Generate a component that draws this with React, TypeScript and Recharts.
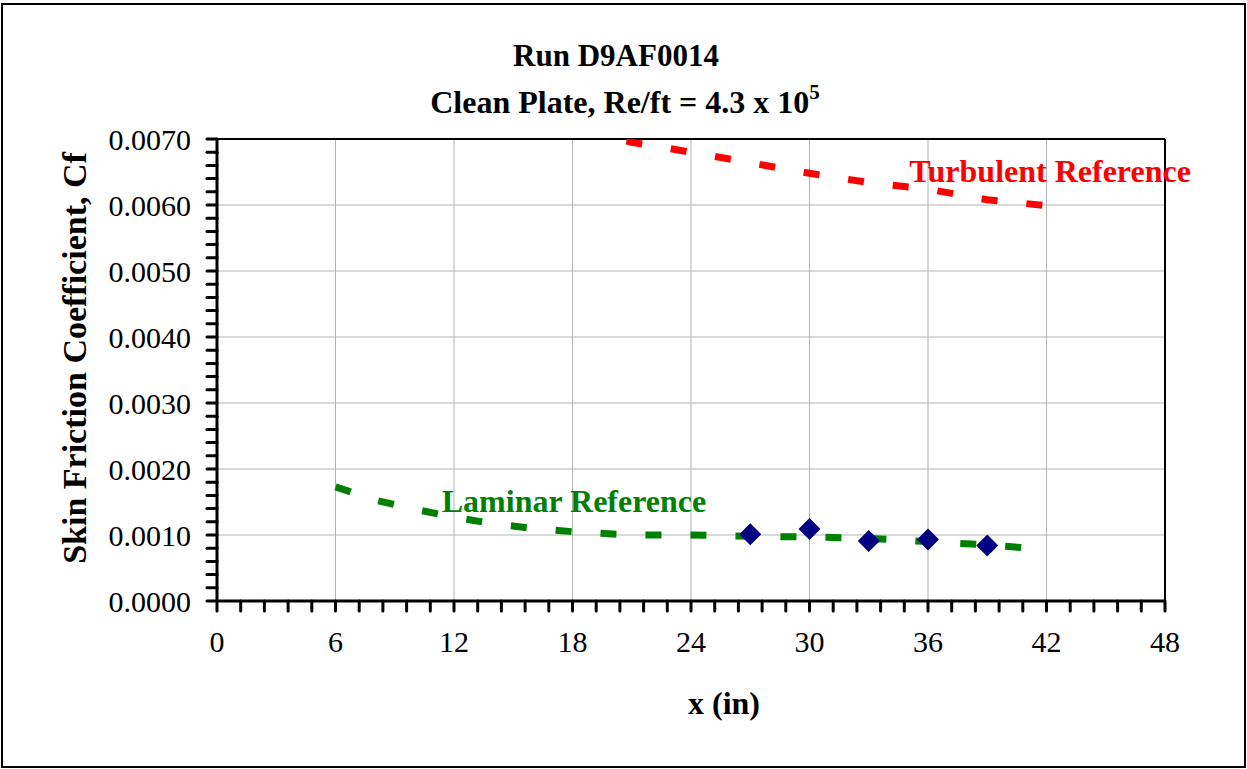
import React from 'react';
import { ComposedChart, Line, Scatter, XAxis, YAxis, ReferenceLine } from 'recharts';

// measured skin friction points
const measX = [27, 30, 33, 36, 39];
const measCf = [0.00101, 0.00109, 0.00091, 0.00093, 0.00084];

// reference curves
const lamX = [6, 8, 10, 12, 14, 16, 18, 21, 24, 27, 30, 33, 36, 39, 42];
const lamCf = [0.00173, 0.00153, 0.00139, 0.00127, 0.00117, 0.0011, 0.00105, 0.001, 0.001, 0.00098, 0.00097, 0.00095, 0.0009, 0.00085, 0.00078];
const turbX = [12, 15, 18, 19, 21, 24, 27, 30, 33, 36, 39, 42];
const turbCf = [0.00775, 0.00745, 0.0072, 0.00712, 0.00695, 0.0068, 0.00664, 0.00648, 0.00634, 0.00624, 0.00608, 0.00599];

// axes
const xMajor = [0, 6, 12, 18, 24, 30, 36, 42, 48];
const yMajor = [0, 0.001, 0.002, 0.003, 0.004, 0.005, 0.006, 0.007];
const xTicks = Array.from({ length: 41 }, (_, i) => +(i * 1.2).toFixed(1));
const yTicks = Array.from({ length: 36 }, (_, i) => +(i * 0.0002).toFixed(4));

const measured = measX.map((x, i) => ({ x, cf: measCf[i] }));
const laminar = lamX.map((x, i) => ({ x, cf: lamCf[i] }));
const turbulent = turbX.map((x, i) => ({ x, cf: turbCf[i] }));

const serif = '"Liberation Serif", "Times New Roman", serif';
const tickStyle = { fill: '#000', fontSize: 30, fontFamily: serif };

const Diamond = (props: any) => {
  const { cx, cy } = props;
  const r = 11;
  return (
    <polygon
      points={`${cx},${cy - r} ${cx + r},${cy} ${cx},${cy + r} ${cx - r},${cy}`}
      fill="#000080"
    />
  );
};

const isMajor = (v: number, list: number[]) => list.some((m) => Math.abs(m - v) < 1e-9);

export default function App() {
  return (
    <div style={{ position: 'absolute', left: 0, top: 0, width: 1247, height: 769, background: '#fff' }}>
      <ComposedChart
        width={1247}
        height={769}
        margin={{ top: 139, right: 82, bottom: 108, left: 0 }}
      >
        {xMajor.slice(1, -1).map((v) => (
          <ReferenceLine key={'gx' + v} x={v} stroke="#b3b3b3" strokeWidth={1} />
        ))}
        {yMajor.slice(1, -1).map((v) => (
          <ReferenceLine key={'gy' + v} y={v} stroke="#b3b3b3" strokeWidth={1} />
        ))}
        <ReferenceLine y={0.007} stroke="#000" strokeWidth={2} />
        <ReferenceLine x={48} stroke="#000" strokeWidth={2} />
        <XAxis
          type="number"
          dataKey="x"
          domain={[0, 48]}
          ticks={xTicks}
          interval={0}
          allowDataOverflow
          height={60}
          tickSize={10}
          tickMargin={20}
          axisLine={{ stroke: '#000', strokeWidth: 3 }}
          tickLine={{ stroke: '#000', strokeWidth: 3, strokeLinecap: 'round' }}
          tick={tickStyle}
          tickFormatter={(v: number) => (isMajor(v, xMajor) ? String(v) : '')}
        />
        <YAxis
          type="number"
          dataKey="cf"
          domain={[0, 0.007]}
          ticks={yTicks}
          interval={0}
          allowDataOverflow
          width={217}
          tickSize={10}
          tickMargin={16}
          axisLine={{ stroke: '#000', strokeWidth: 3 }}
          tickLine={{ stroke: '#000', strokeWidth: 3, strokeLinecap: 'round' }}
          tick={tickStyle}
          tickFormatter={(v: number) => (isMajor(v, yMajor) ? v.toFixed(4) : '')}
        />
        <Line
          data={turbulent}
          dataKey="cf"
          type="linear"
          stroke="#ff0000"
          strokeWidth={7}
          strokeDasharray="16 29"
          dot={false}
          isAnimationActive={false}
        />
        <Line
          data={laminar}
          dataKey="cf"
          type="linear"
          stroke="#008000"
          strokeWidth={7}
          strokeDasharray="16 29"
          dot={false}
          isAnimationActive={false}
        />
        <Scatter data={measured} dataKey="cf" shape={Diamond} isAnimationActive={false} />
      </ComposedChart>
      <svg
        width={1247}
        height={769}
        style={{ position: 'absolute', left: 0, top: 0, pointerEvents: 'none' }}
      >
        <g fontFamily={serif} fontWeight="bold" textAnchor="middle">
          <text x={616} y={66} fontSize={31}>Run D9AF0014</text>
          <text x={625} y={113} fontSize={32}>
            Clean Plate, Re/ft = 4.3 x 10<tspan fontSize={21} dy={-14}>5</tspan>
          </text>
          <text x={724} y={714} fontSize={32}>x (in)</text>
          <text transform="translate(86, 358) rotate(-90)" fontSize={34}>Skin Friction Coefficient, Cf</text>
          <text x={1050} y={182} fontSize={32} fill="#ff0000">Turbulent Reference</text>
          <text x={574} y={512} fontSize={32} fill="#008000">Laminar Reference</text>
        </g>
      </svg>
      <div
        style={{
          position: 'absolute',
          left: 1,
          top: 3,
          width: 1245,
          height: 765,
          border: '2px solid #000',
          boxSizing: 'border-box',
          pointerEvents: 'none',
        }}
      />
    </div>
  );
}
